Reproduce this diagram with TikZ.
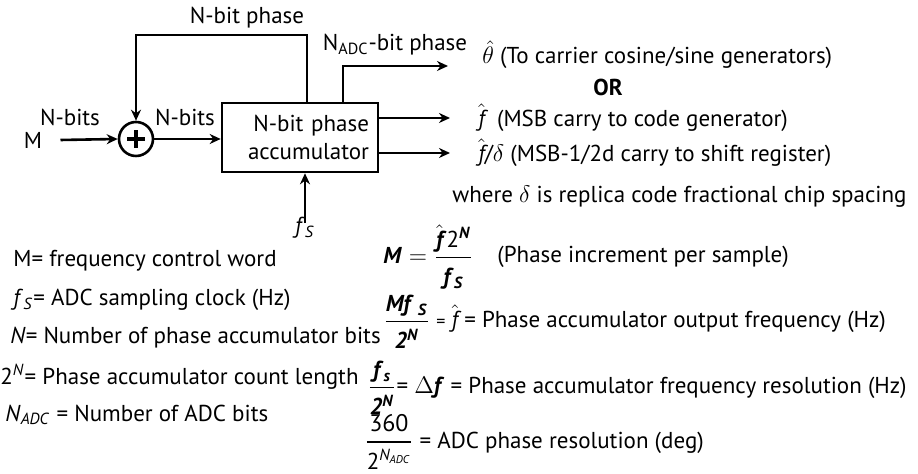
\documentclass[tikz,border=0pt]{standalone}
\usepackage{amsmath}
\usepackage{fontspec}
\setmainfont{PT Sans}
\usetikzlibrary{arrows.meta}
\tikzset{
  wire/.style={line width=1.3pt},
  arr/.style={wire, -{Stealth[length=5.5pt,width=5pt]}},
  txt/.style={inner sep=0pt, font=\fontsize{11.5}{14}\selectfont},
}
\newcommand{\bi}[1]{\textbf{\textit{#1}}}
\newcommand{\hatf}{\ensuremath{\hat{\mbox{\itshape f}}}}
\newcommand{\hatbf}{\ensuremath{\hat{\mbox{\bfseries\itshape f}}}}
\newcommand{\bfrac}[2]{\genfrac{}{}{0.6pt}{0}{\mbox{#1\rule[-2.5pt]{0pt}{2.5pt}}}{\mbox{\rule{0pt}{11.5pt}#2}}}

\begin{document}
\begin{tikzpicture}[x=0.5pt, y=-0.5pt, every node/.style={txt}]
  \useasboundingbox (0,0) rectangle (918,474);

  % Nodes
  \node (acc) at (300,137.5) [draw, wire, minimum width=78pt, minimum height=34.5pt, text width=69pt, align=right] {N-bit phase\\accumulator};
  \node (adder) at (136,139) [draw, wire, circle, minimum size=17pt] {};
  \node (M) at (33,140) {M};
  \node (fs) at (305,228) {\textit{f}\textsubscript{\textit{S}}};

  \node (nbitsin) at (70,117) {N-bits};
  \node (nbitsout) at (185,117) {N-bits};
  \node (fbphase) at (247,18) {N-bit phase};
  \node (adcphase) at (395,45) {N\textsubscript{ADC}-bit phase};

  \coordinate (fbtop) at (307,35);
  \coordinate (thetaout) at (448,66);
  \coordinate (fout) at (450,118);
  \coordinate (fdout) at (450,153);

  % Outputs
  \node (theta) at (482,55) [anchor=west] {$\hat\theta$ (To carrier cosine/sine generators)};
  \node (or) at (608,87) {\bfseries OR};
  \node (fhat) at (478,118) [anchor=west] {\hatf\ \ (MSB carry to code generator)};
  \node (fdelta) at (478,153) [anchor=west] {\hatf/$\delta$ (MSB-1/2d carry to shift register)};
  \node (where) at (452,197) [anchor=west] {where $\delta$ is replica code fractional chip spacing};

  % Definitions
  \node (defM) at (13,261) [anchor=west] {M= frequency control word};
  \node (deffs) at (13,300) [anchor=west] {\textit{f}\textsubscript{\textit{S}}= ADC sampling clock (Hz)};
  \node (defN) at (10,338) [anchor=west] {\textit{N}= Number of phase accumulator bits};
  \node (def2N) at (0,377) [anchor=west] {2\textsuperscript{\textit{N}}= Phase accumulator count length};
  \node (defadc) at (5,415) [anchor=west] {\textit{N}\textsubscript{\textit{ADC}} = Number of ADC bits};

  % Equations
  \node (eqM) at (383,257) [anchor=west] {$\mbox{\bi{M}} = \bfrac{\hatbf\,2\textsuperscript{\bi{N}}}{\bi{f}\textsubscript{\bi{S}}}$};
  \node (eqMnote) at (497,257) [anchor=west] {(Phase increment per sample)};
  \node (eqout) at (383,322) [anchor=west] {$\bfrac{\bi{Mf}\,\textsubscript{\bi{S}}}{\bi{2}\textsuperscript{\bi{N}}}$ {\small=} \hatf{} = Phase accumulator output frequency (Hz)};
  \node (eqres) at (367,388) [anchor=west] {$\bfrac{\bi{f}\textsubscript{\bi{s}}}{\bi{2}\textsuperscript{\bi{N}}}$= $\Delta$\bi{f} = Phase accumulator frequency resolution (Hz)};
  \node (eqadc) at (364,442) [anchor=west] {$\bfrac{\large 360}{2\textsuperscript{\itshape N\textsubscript{ADC}}}$ = ADC phase resolution (deg)};

  % Edges
  \draw[arr] ([xshift=9pt]M.east) -- (adder.west);
  \draw[arr] (adder.east) -- (adder -| acc.west);
  \draw[arr] (acc.north -| fbtop) -- (fbtop) -| (adder.north);
  \draw[arr] ([xshift=21.5pt]acc.north) |- (thetaout);
  \draw[arr] (acc.east |- fout) -- (fout);
  \draw[arr] (acc.east |- fdout) -- (fdout);
  \draw[arr] ([yshift=-3pt]fs.north) -- (fs |- acc.south);

  % plus sign
  \draw[line width=1.6pt] ([xshift=-4.5pt]adder.center) -- ([xshift=4.5pt]adder.center);
  \draw[line width=1.6pt] ([yshift=-4.5pt]adder.center) -- ([yshift=4.5pt]adder.center);
\end{tikzpicture}
\end{document}
